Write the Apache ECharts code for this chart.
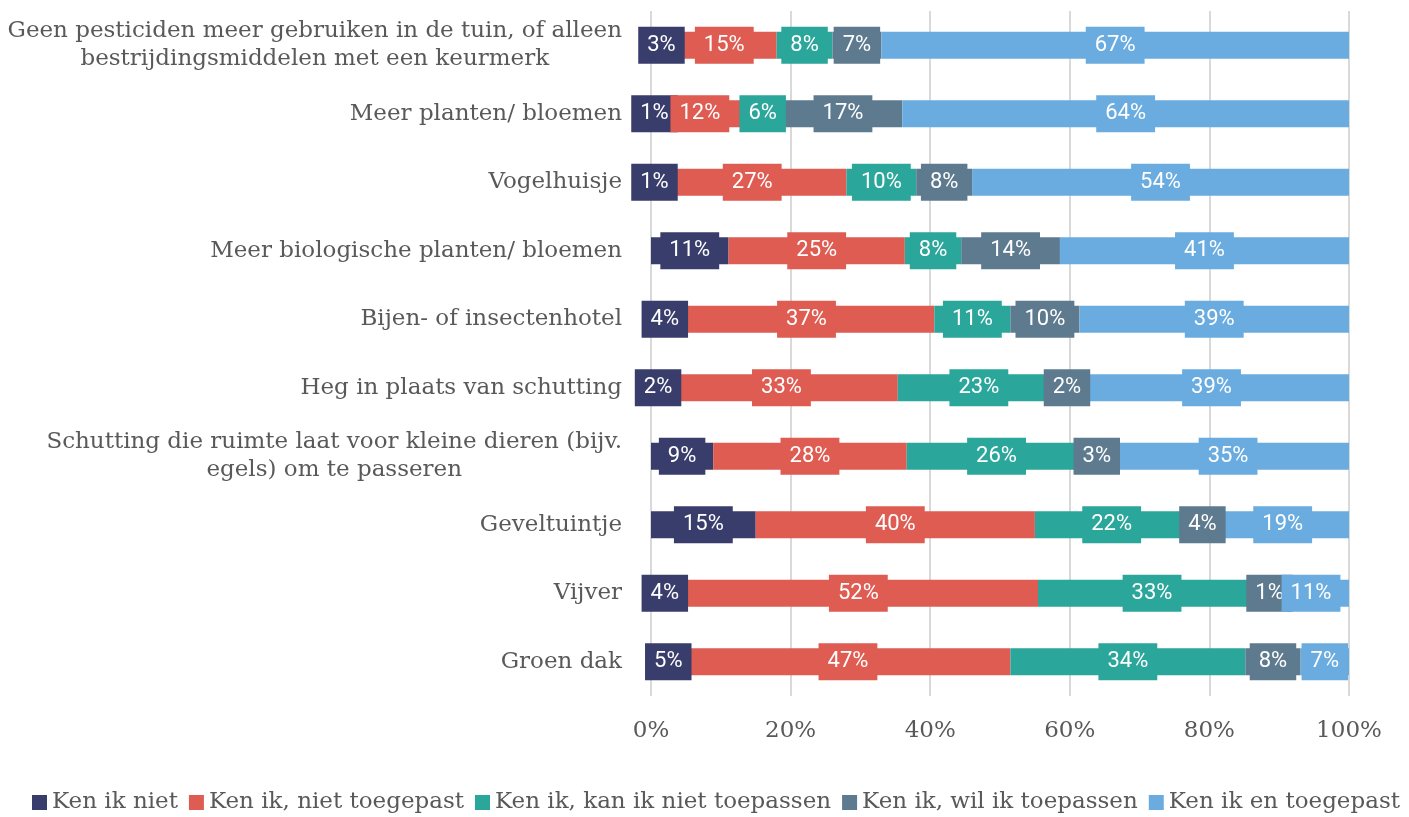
<!DOCTYPE html>
<html>
<head>
<meta charset="utf-8">
<script src="https://cdn.jsdelivr.net/npm/echarts@6/dist/echarts.min.js"></script>
<style>
  html, body { margin: 0; padding: 0; background: #fff; }
  #main { width: 1409px; height: 817px; }
</style>
</head>
<body>
<div id="main"></div>
<script>
var categories = [
    'Geen pesticiden meer gebruiken in de tuin, of alleen\nbestrijdingsmiddelen met een keurmerk',
    'Meer planten/ bloemen',
    'Vogelhuisje',
    'Meer biologische planten/ bloemen',
    'Bijen- of insectenhotel',
    'Heg in plaats van schutting',
    'Schutting die ruimte laat voor kleine dieren (bijv.\negels) om te passeren',
    'Geveltuintje',
    'Vijver',
    'Groen dak'
];

var seriesNames = ['Ken ik niet', 'Ken ik, niet toegepast', 'Ken ik, kan ik niet toepassen', 'Ken ik, wil ik toepassen', 'Ken ik en toegepast'];
var colors = ['#393d6b', '#de5c52', '#2ba69a', '#5e7a8f', '#6aacdf'];

var kenIkNiet       = [3, 1, 1, 11, 4, 2, 9, 15, 4, 5];
var nietToegepast   = [15, 12, 27, 25, 37, 33, 28, 40, 52, 47];
var kanNiet         = [8, 6, 10, 8, 11, 23, 26, 22, 33, 34];
var wilToepassen    = [7, 17, 8, 14, 10, 2, 3, 4, 1, 8];
var toegepast       = [67, 64, 54, 41, 39, 39, 35, 19, 11, 7];

var xTicks = [0, 20, 40, 60, 80, 100];

var values = [kenIkNiet, nietToegepast, kanNiet, wilToepassen, toegepast];

// 100% gestapeld: elke rij schalen naar totaal 100, label toont het ruwe percentage
var totals = categories.map(function (c, j) {
    var s = 0;
    for (var i = 0; i < values.length; i++) s += values[i][j];
    return s;
});

var myChart = echarts.init(document.getElementById('main'));

var series = [];
for (var i = 0; i < values.length; i++) {
    series.push({
        name: seriesNames[i],
        type: 'bar',
        stack: 'total',
        barWidth: 27,
        data: values[i].map(function (v, j) {
            return { value: v * 100 / totals[j], raw: v };
        }),
        itemStyle: { color: colors[i] },
        label: {
            show: true,
            position: 'inside',
            formatter: function (p) { return p.data.raw + '%'; },
            color: '#fff',
            fontFamily: 'Roboto',
            fontSize: 22,
            lineHeight: 23,
            backgroundColor: colors[i],
            padding: [7, 9, 7, 9]
        }
    });
}

option = {
    color: colors,
    animation: false,
    grid: {
        left: 651,
        right: 60,
        top: 11,
        bottom: 121,
        containLabel: false
    },
    legend: {
        top: 791,
        left: 32,
        width: 1377,
        padding: 0,
        itemWidth: 15,
        itemHeight: 15,
        itemGap: 11,
        icon: 'rect',
        textStyle: {
            fontFamily: 'DejaVu Serif',
            fontSize: 23,
            color: '#595959'
        },
        data: seriesNames
    },
    xAxis: {
        type: 'value',
        min: 0,
        max: 100,
        interval: 20,
        axisLine: { show: false },
        axisTick: { show: false },
        splitLine: { lineStyle: { color: '#d9d9d9', width: 2 } },
        axisLabel: {
            margin: 24,
            formatter: function (v) { return xTicks.indexOf(v) >= 0 ? v + '%' : ''; },
            fontFamily: 'DejaVu Serif',
            fontSize: 23,
            color: '#595959'
        }
    },
    yAxis: {
        type: 'category',
        inverse: true,
        data: categories,
        axisLine: { show: false },
        axisTick: { show: false },
        axisLabel: {
            margin: 29,
            align: 'right',
            color: '#595959',
            fontFamily: 'DejaVu Serif',
            fontSize: 23,
            lineHeight: 28,
            formatter: function (v) {
                return v.split('\n').map(function (s) { return '{c|' + s + '}'; }).join('\n');
            },
            rich: {
                c: {
                    align: 'center',
                    color: '#595959',
                    fontFamily: 'DejaVu Serif',
                    fontSize: 23,
                    lineHeight: 28
                }
            }
        }
    },
    series: series
};

myChart.setOption(option);
window.onresize = myChart.resize;
</script>
</body>
</html>
